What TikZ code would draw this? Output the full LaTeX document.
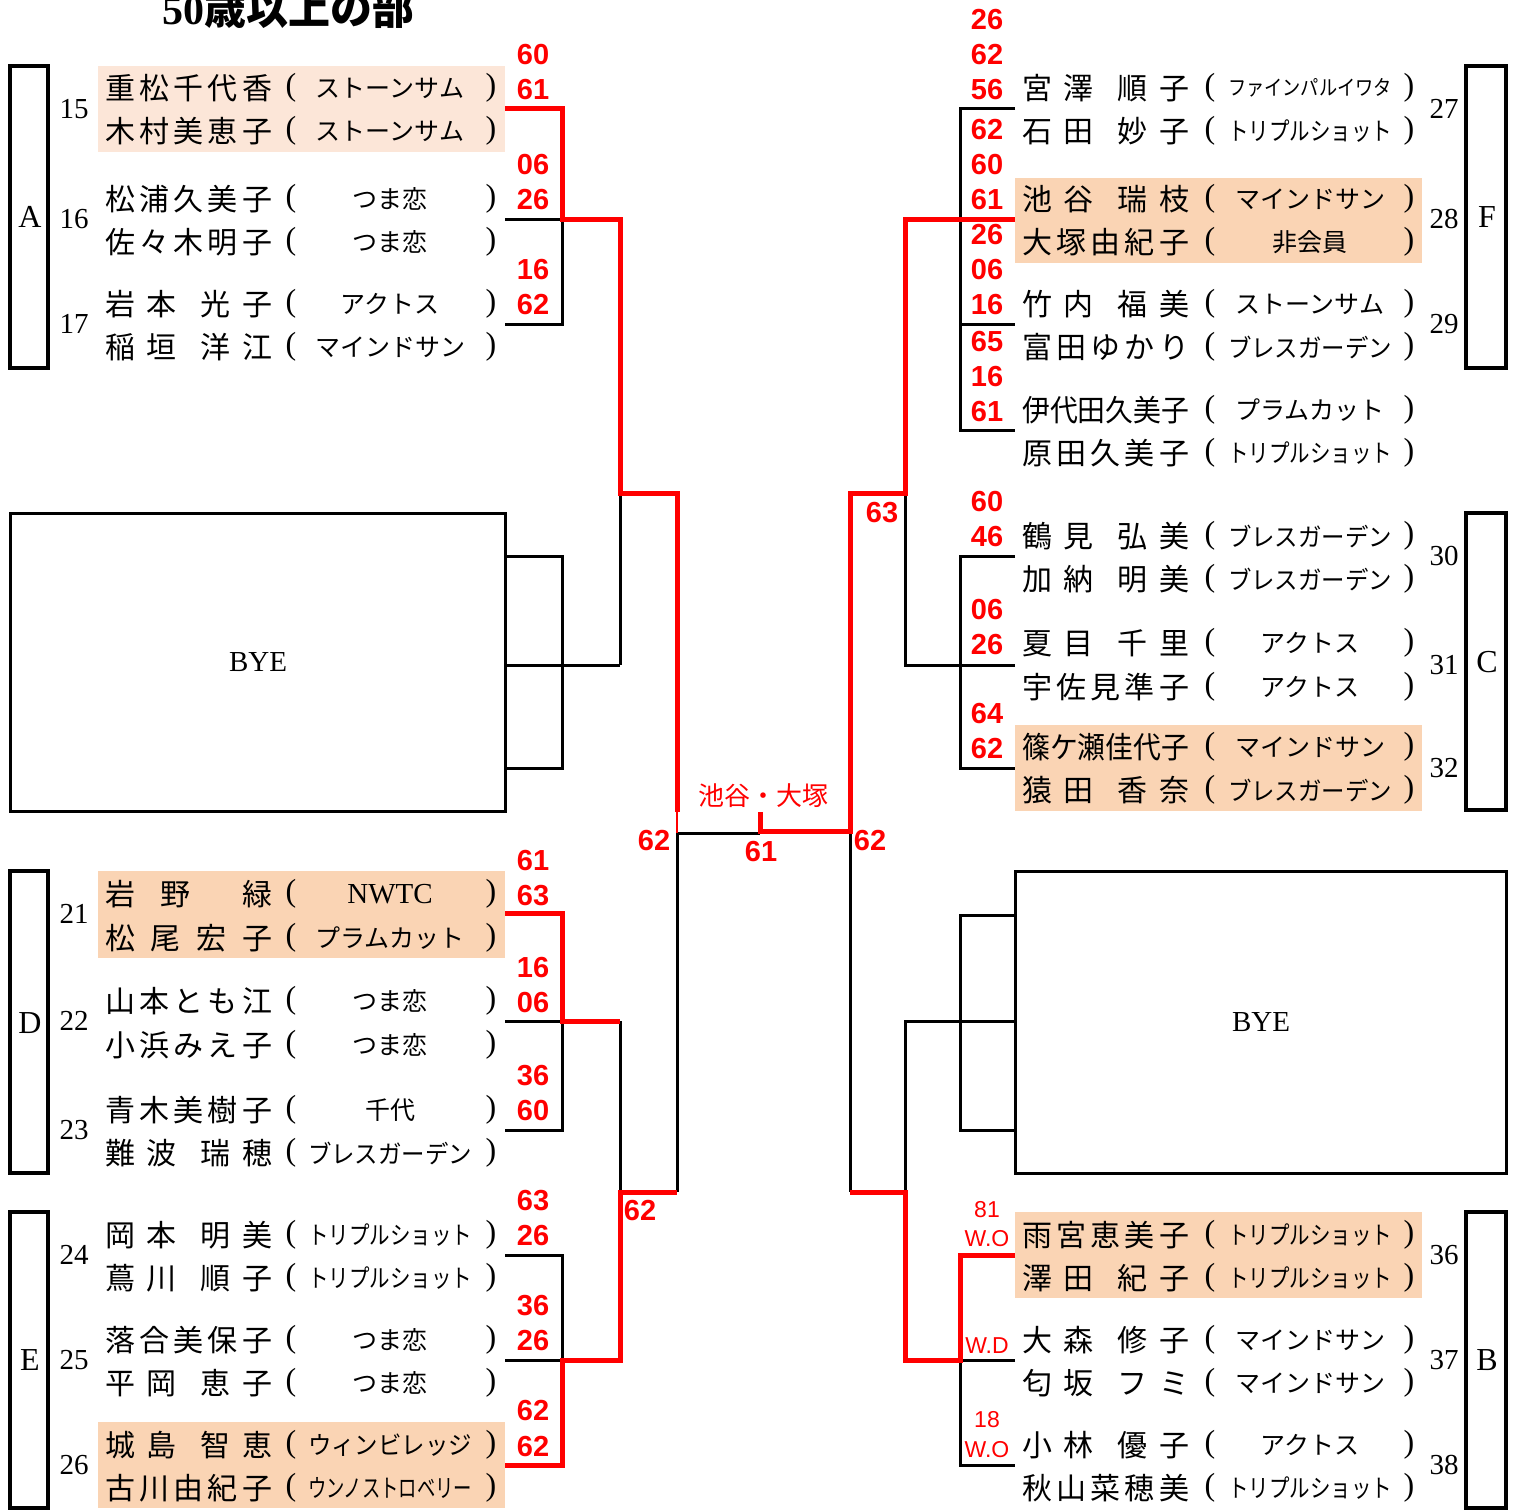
\documentclass[tikz,border=0pt]{standalone}
\usepackage{fontspec}
\usepackage{graphicx}
\setmainfont{Liberation Serif}
\newfontfamily\jp{Noto Sans CJK JP}
\newfontfamily\scorefont{Liberation Sans}
\definecolor{hlA}{HTML}{FCE6D8}
\definecolor{hlB}{HTML}{FAD4B4}
\newsavebox\clubbox
\newcommand\Club[1]{\sbox\clubbox{#1}\ifdim\wd\clubbox>164pt\relax\resizebox{164pt}{\height}{\usebox\clubbox}\else\usebox\clubbox\fi}
\newcommand\NmF[5]{\makebox[167pt][s]{#1\hfill#2\hfill#3\hfill#4\hfill#5}}
\newcommand\NmS[4]{\makebox[167pt][s]{#1\hfill#2\hfill\hfill#3\hfill#4}}
\newcommand\NmE[4]{\makebox[167pt][s]{#1\hfill#2\hfill#3\hfill#4}}
\newcommand\NmT[3]{\makebox[167pt][s]{#1\hfill#2\hfill\hfill#3}}
\newcommand\NmX[1]{\resizebox{167pt}{\height}{#1}}
\tikzset{
  blk/.style={line width=3pt, black},
  rd/.style={line width=5pt, red},
  nm/.style={font=\jp\fontsize{30}{36}\selectfont, inner sep=0pt, anchor=west},
  cl/.style={font=\jp\fontsize{25}{30}\selectfont, inner sep=0pt},
  paren/.style={font=\fontsize{32}{36}\selectfont, inner sep=0pt},
  sd/.style={font=\fontsize{29}{34}\selectfont, inner sep=0pt},
  gl/.style={font=\fontsize{32}{36}\selectfont, inner sep=0pt},
  scr/.style={font=\scorefont\bfseries\fontsize{29}{32}\selectfont, text=red, inner sep=0pt},
  scs/.style={font=\scorefont\fontsize{23}{27}\selectfont, text=red, inner sep=0pt},
  grp/.style={draw, line width=3.5pt},
  byebox/.style={draw, line width=3pt},
}
\newcommand\entL[3]{%
  \node[nm] (L#1n) at (105,#1) {#2};
  \node[paren] (L#1a) at (291,#1) {(};
  \node[cl] (L#1c) at (390,#1) {\Club{#3}};
  \node[paren] (L#1b) at (491,#1) {)};
}
\newcommand\entR[3]{%
  \node[nm] (R#1n) at (1022,#1) {#2};
  \node[paren] (R#1a) at (1210,#1) {(};
  \node[cl] (R#1c) at (1310,#1) {\Club{#3}};
  \node[paren] (R#1b) at (1409,#1) {)};
}
\begin{document}
\begin{tikzpicture}[x=1pt,y=-1pt]
\useasboundingbox (0,0) rectangle (1521,1510);
% highlights
\fill[hlA] (98,66) rectangle (505,152);
\fill[hlB] (98,871) rectangle (505,958);
\fill[hlB] (98,1422) rectangle (505,1508);
\fill[hlB] (1015,178) rectangle (1422,263);
\fill[hlB] (1015,725) rectangle (1422,811);
\fill[hlB] (1015,1212) rectangle (1422,1298);
% title (cut at the top edge, as in the reference)
\node[font=\bfseries\fontsize{42}{46}\selectfont, anchor=base, inner sep=0pt] (title) at (288,24) {50{\jp 歳以上の部}};
% group boxes
\draw[grp] (10,66) rectangle (48,368);
\draw[grp] (10,871) rectangle (48,1173);
\draw[grp] (10,1212) rectangle (48,1508);
\draw[grp] (1466,66) rectangle (1506,368);
\draw[grp] (1466,513) rectangle (1506,810);
\draw[grp] (1466,1212) rectangle (1506,1508);
\node[gl] (gA) at (30,217) {A};
\node[gl] (gD) at (30,1023) {D};
\node[gl] (gE) at (30,1360) {E};
\node[gl] (gF) at (1487,217) {F};
\node[gl] (gC) at (1487,662) {C};
\node[gl] (gB) at (1487,1360) {B};
% bye boxes
\draw[byebox] (10,513) rectangle (505,811);
\node[font=\fontsize{29}{34}\selectfont, inner sep=0pt] (bye1) at (258,662) {BYE};
\draw[byebox] (1015,871) rectangle (1506,1173);
\node[font=\fontsize{29}{34}\selectfont, inner sep=0pt] (bye2) at (1261,1022) {BYE};
% seeds
\node[sd] (s15) at (74,109) {15};
\node[sd] (s16) at (74,219) {16};
\node[sd] (s17) at (74,324) {17};
\node[sd] (s21) at (74,914) {21};
\node[sd] (s22) at (74,1021) {22};
\node[sd] (s23) at (74,1130) {23};
\node[sd] (s24) at (74,1255) {24};
\node[sd] (s25) at (74,1360) {25};
\node[sd] (s26) at (74,1465) {26};
\node[sd] (s27) at (1444,109) {27};
\node[sd] (s28) at (1444,219) {28};
\node[sd] (s29) at (1444,324) {29};
\node[sd] (s30) at (1444,556) {30};
\node[sd] (s31) at (1444,665) {31};
\node[sd] (s32) at (1444,768) {32};
\node[sd] (s36) at (1444,1255) {36};
\node[sd] (s37) at (1444,1360) {37};
\node[sd] (s38) at (1444,1465) {38};
% entries left
\entL{88}{\NmF 重松千代香}{ストーンサム}
\entL{131}{\NmF 木村美恵子}{ストーンサム}
\entL{199}{\NmF 松浦久美子}{つま恋}
\entL{242}{\NmF 佐々木明子}{つま恋}
\entL{304}{\NmS 岩本光子}{アクトス}
\entL{347}{\NmS 稲垣洋江}{マインドサン}
\entL{894}{\NmT 岩野緑}{{\rmfamily\fontsize{29}{34}\selectfont NWTC}}
\entL{938}{\NmE 松尾宏子}{プラムカット}
\entL{1001}{\NmF 山本とも江}{つま恋}
\entL{1045}{\NmF 小浜みえ子}{つま恋}
\entL{1110}{\NmF 青木美樹子}{千代}
\entL{1153}{\NmS 難波瑞穂}{ブレスガーデン}
\entL{1235}{\NmS 岡本明美}{トリプルショット}
\entL{1278}{\NmS 蔦川順子}{トリプルショット}
\entL{1340}{\NmF 落合美保子}{つま恋}
\entL{1383}{\NmS 平岡恵子}{つま恋}
\entL{1445}{\NmS 城島智恵}{ウィンビレッジ}
\entL{1488}{\NmF 古川由紀子}{ウンノストロベリー}
% entries right
\entR{88}{\NmS 宮澤順子}{{\fontsize{21}{26}\selectfont ファインパルイワタ}}
\entR{131}{\NmS 石田妙子}{トリプルショット}
\entR{199}{\NmS 池谷瑞枝}{マインドサン}
\entR{242}{\NmF 大塚由紀子}{非会員}
\entR{304}{\NmS 竹内福美}{ストーンサム}
\entR{347}{\NmF 富田ゆかり}{ブレスガーデン}
\entR{410}{\NmX{伊代田久美子}}{プラムカット}
\entR{453}{\NmF 原田久美子}{トリプルショット}
\entR{536}{\NmS 鶴見弘美}{ブレスガーデン}
\entR{579}{\NmS 加納明美}{ブレスガーデン}
\entR{643}{\NmS 夏目千里}{アクトス}
\entR{687}{\NmF 宇佐見準子}{アクトス}
\entR{747}{\NmX{篠ケ瀬佳代子}}{マインドサン}
\entR{790}{\NmS 猿田香奈}{ブレスガーデン}
\entR{1235}{\NmF 雨宮恵美子}{トリプルショット}
\entR{1278}{\NmS 澤田紀子}{トリプルショット}
\entR{1340}{\NmS 大森修子}{マインドサン}
\entR{1383}{\NmS 匂坂フミ}{マインドサン}
\entR{1445}{\NmS 小林優子}{アクトス}
\entR{1488}{\NmF 秋山菜穂美}{トリプルショット}
% black bracket lines
\draw[blk] (505,219) -- (562,219);
\draw[blk] (562,219) -- (562,324) -- (505,324);
\draw[blk] (505,556) -- (562,556) -- (562,768) -- (505,768);
\draw[blk] (505,665) -- (620,665);
\draw[blk] (620,493) -- (620,665);
\draw[blk] (505,1021) -- (562,1021);
\draw[blk] (562,1021) -- (562,1130) -- (505,1130);
\draw[blk] (620,1021) -- (620,1192);
\draw[blk] (505,1255) -- (562,1255) -- (562,1360) -- (505,1360);
\draw[blk] (677,1192) -- (677,833) -- (760,833);
\draw[blk] (850,833) -- (850,1192);
\draw[blk] (1015,108) -- (960,108) -- (960,430) -- (1015,430);
\draw[blk] (960,324) -- (1015,324);
\draw[blk] (1015,556) -- (960,556) -- (960,768) -- (1015,768);
\draw[blk] (1015,665) -- (905,665) -- (905,493);
\draw[blk] (1015,915) -- (960,915) -- (960,1130) -- (1015,1130);
\draw[blk] (1015,1021) -- (905,1021) -- (905,1192);
\draw[blk] (1015,1360) -- (960,1360) -- (960,1465) -- (1015,1465);
% red winner lines
\draw[rd] (505,108) -- (562,108) -- (562,219) -- (620,219) -- (620,493) -- (677,493) -- (677,812);
\draw[red, line width=2pt] (677,812) -- (677,833);
\draw[rd] (505,913) -- (562,913) -- (562,1021) -- (620,1021);
\draw[rd] (505,1465) -- (562,1465) -- (562,1360) -- (620,1360) -- (620,1192) -- (677,1192);
\draw[rd] (1015,219) -- (905,219) -- (905,493) -- (850,493) -- (850,831) -- (760,831) -- (760,812);
\draw[rd] (1015,1255) -- (960,1255) -- (960,1360) -- (905,1360) -- (905,1192) -- (850,1192);
% champion
\node[font=\jp\fontsize{26}{30}\selectfont, text=red, inner sep=0pt] (champ) at (763,796) {池谷・大塚};
% scores left
\node[scr] (a1) at (533,55) {60};
\node[scr] (a2) at (533,90) {61};
\node[scr] (a3) at (533,165) {06};
\node[scr] (a4) at (533,200) {26};
\node[scr] (a5) at (533,270) {16};
\node[scr] (a6) at (533,305) {62};
\node[scr] (d1) at (533,861) {61};
\node[scr] (d2) at (533,896) {63};
\node[scr] (d3) at (533,968) {16};
\node[scr] (d4) at (533,1003) {06};
\node[scr] (d5) at (533,1076) {36};
\node[scr] (d6) at (533,1111) {60};
\node[scr] (e1) at (533,1201) {63};
\node[scr] (e2) at (533,1236) {26};
\node[scr] (e3) at (533,1306) {36};
\node[scr] (e4) at (533,1341) {26};
\node[scr] (e5) at (533,1411) {62};
\node[scr] (e6) at (533,1446) {62};
% scores right
\node[scr] (f1) at (987,20) {26};
\node[scr] (f2) at (987,55) {62};
\node[scr] (f3) at (987,90) {56};
\node[scr] (f4) at (987,130) {62};
\node[scr] (f5) at (987,165) {60};
\node[scr] (f6) at (987,200) {61};
\node[scr] (f7) at (987,235) {26};
\node[scr] (f8) at (987,270) {06};
\node[scr] (f9) at (987,305) {16};
\node[scr] (f10) at (987,342) {65};
\node[scr] (f11) at (987,377) {16};
\node[scr] (f12) at (987,412) {61};
\node[scr] (c1) at (987,502) {60};
\node[scr] (c2) at (987,537) {46};
\node[scr] (c3) at (987,610) {06};
\node[scr] (c4) at (987,645) {26};
\node[scr] (c5) at (987,714) {64};
\node[scr] (c6) at (987,749) {62};
\node[scs] (b1) at (987,1210) {81};
\node[scs] (b2) at (987,1239) {W.O};
\node[scs] (b3) at (987,1346) {W.D};
\node[scs] (b4) at (987,1420) {18};
\node[scs] (b5) at (987,1450) {W.O};
% scores centre
\node[scr] (m1) at (882,513) {63};
\node[scr] (m2) at (654,841) {62};
\node[scr] (m3) at (870,841) {62};
\node[scr] (m4) at (761,852) {61};
\node[scr] (m5) at (640,1211) {62};
\end{tikzpicture}
\end{document}
